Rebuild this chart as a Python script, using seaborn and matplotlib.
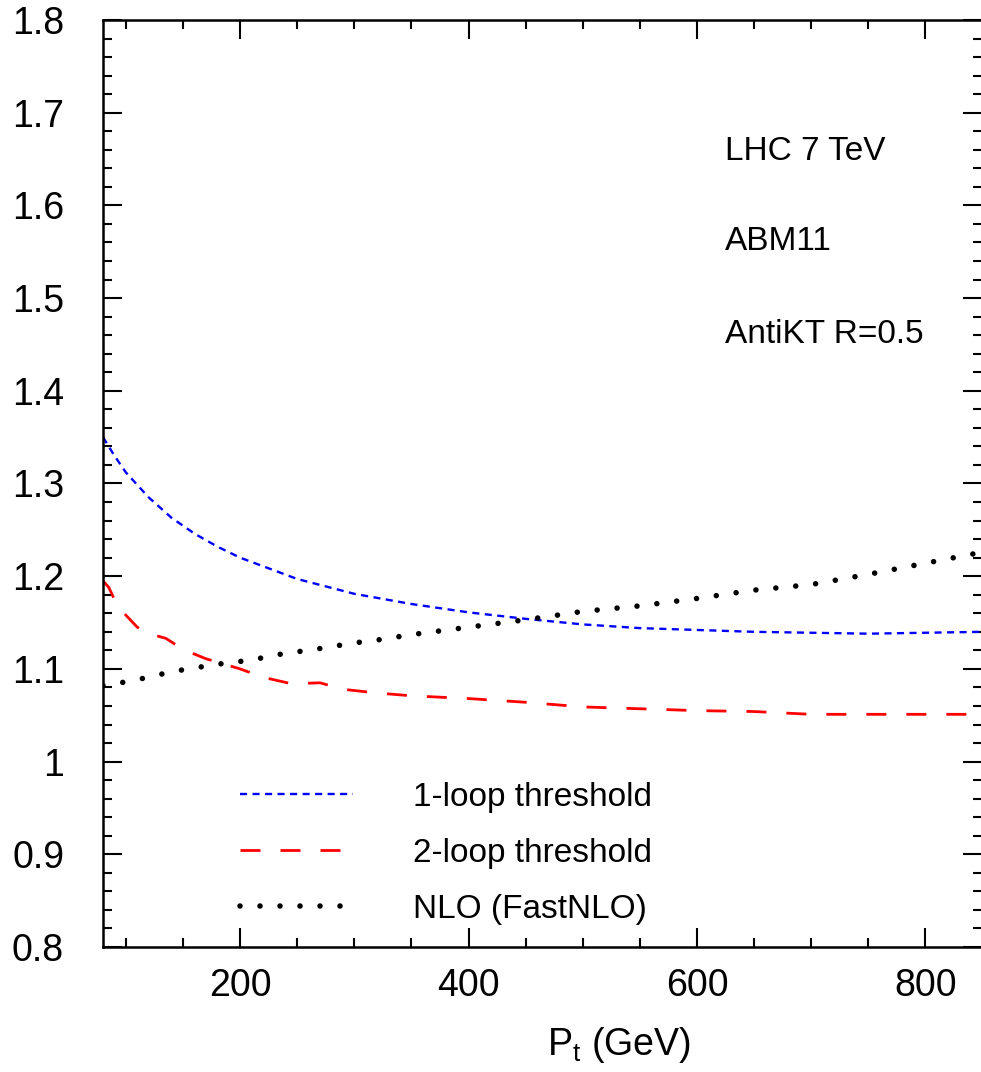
import numpy as np
import pandas as pd
import matplotlib
matplotlib.use("Agg")
import matplotlib.pyplot as plt
import seaborn as sns
from matplotlib.ticker import MultipleLocator

# ---------------- data ----------------
pt_1loop = [80, 90, 100, 120, 140, 160, 180, 200, 250, 300, 350, 400, 450, 500,
            550, 600, 650, 700, 750, 800, 850]
r_1loop = [1.350, 1.330, 1.312, 1.285, 1.263, 1.246, 1.232, 1.220, 1.197, 1.181,
           1.170, 1.161, 1.154, 1.148, 1.144, 1.142, 1.140, 1.139, 1.138, 1.139, 1.140]

pt_2loop = [80, 85, 90, 100, 110, 120, 135, 150, 170, 200, 220, 245, 270, 290, 320,
            350, 400, 450, 500, 550, 600, 650, 700, 750, 800, 850]
r_2loop = [1.195, 1.188, 1.175, 1.158, 1.145, 1.138, 1.133, 1.121, 1.111, 1.100,
           1.091, 1.084, 1.085, 1.078, 1.074, 1.071, 1.068, 1.064, 1.059, 1.057,
           1.055, 1.054, 1.051, 1.051, 1.051, 1.051]

pt_nlo = [80, 100, 120, 140, 160, 180, 200, 220, 240, 260, 280, 300, 325, 350, 400,
          450, 500, 550, 600, 650, 700, 750, 800, 850]
r_nlo = [1.082, 1.086, 1.091, 1.097, 1.101, 1.105, 1.108, 1.112, 1.117, 1.120, 1.124,
         1.128, 1.132, 1.137, 1.145, 1.153, 1.162, 1.168, 1.176, 1.185, 1.191, 1.202,
         1.214, 1.226]

labels = ["1-loop threshold", "2-loop threshold", "NLO (FastNLO)"]
annotations = ["LHC 7 TeV", "ABM11", "AntiKT R=0.5"]
yticks = [0.8, 0.9, 1.0, 1.1, 1.2, 1.3, 1.4, 1.5, 1.6, 1.7, 1.8]
ytick_labels = ["0.8", "0.9", "1", "1.1", "1.2", "1.3", "1.4", "1.5", "1.6", "1.7", "1.8"]
xticks = [200, 400, 600, 800]
xtick_labels = ["200", "400", "600", "800"]

# ---------------- style ----------------
sns.set_theme(style="ticks")
plt.rcParams["font.family"] = ["Liberation Sans", "DejaVu Sans"]
plt.rcParams["mathtext.fontset"] = "custom"
plt.rcParams["mathtext.rm"] = "Liberation Sans"
plt.rcParams["text.color"] = "black"
plt.rcParams["axes.labelcolor"] = "black"
plt.rcParams["xtick.color"] = "black"
plt.rcParams["ytick.color"] = "black"
plt.rcParams["xtick.labelcolor"] = "black"
plt.rcParams["ytick.labelcolor"] = "black"

W, H = 981, 1072
fig = plt.figure(figsize=(W / 100, H / 100), dpi=100)
ax = fig.add_axes([103 / W, 125 / H, 879 / W, 927 / H])

df1 = pd.DataFrame({"pt": pt_1loop, "r": r_1loop})
df2 = pd.DataFrame({"pt": pt_2loop, "r": r_2loop})
df3 = pd.DataFrame({"pt": pt_nlo, "r": r_nlo})

sns.lineplot(data=df1, x="pt", y="r", ax=ax, color="#0000ff", lw=1.7,
             linestyle=(0, (3.0, 2.3)), label=labels[0])
sns.lineplot(data=df2, x="pt", y="r", ax=ax, color="#ff0000", lw=2.0,
             linestyle=(0, (7.2, 7.2)), label=labels[1])
sns.lineplot(data=df3, x="pt", y="r", ax=ax, color="black", lw=4.0,
             linestyle=(0, (0.001, 3.6)), label=labels[2])
for ln in ax.lines:
    ln.set_dash_capstyle("butt")
ax.lines[2].set_dash_capstyle("round")

ax.set_xlim(80, 849.5)
ax.set_ylim(0.8, 1.8)
ax.set_xticks(xticks)
ax.set_xticklabels(xtick_labels)
ax.set_yticks(yticks)
ax.set_yticklabels(ytick_labels)
ax.xaxis.set_minor_locator(MultipleLocator(50))
ax.yaxis.set_minor_locator(MultipleLocator(0.02))

for s in ax.spines.values():
    s.set_visible(True)
    s.set_linewidth(1.8)
    s.set_color("black")

ax.tick_params(which="both", direction="in", top=True, right=True,
               color="black", width=1.5, labelcolor="black")
ax.tick_params(which="major", length=13.5)
ax.tick_params(which="minor", length=6.5)
ax.tick_params(axis="y", which="major", labelsize=27, pad=28)
ax.tick_params(axis="x", which="major", labelsize=27, pad=15)

ax.set_ylabel("")
ax.set_xlabel(r"$\mathregular{P_t}$ (GeV)", fontsize=27, color="black")
ax.xaxis.label.set_va("baseline")
ax.xaxis.set_label_coords(0.587, -0.1165)

ys = [0.849, 0.752, 0.6516]
for t, yy in zip(annotations, ys):
    ax.text(0.7076, yy, t, transform=ax.transAxes, fontsize=24,
            ha="left", va="baseline", color="black")

leg = ax.legend(loc="center left", bbox_to_anchor=(0.156, 0.101), frameon=False,
                fontsize=24, handlelength=3.4, handletextpad=1.8,
                labelspacing=0.75, borderpad=0, borderaxespad=0)
for t in leg.get_texts():
    t.set_color("black")

fig.savefig("out.png", dpi=100)
